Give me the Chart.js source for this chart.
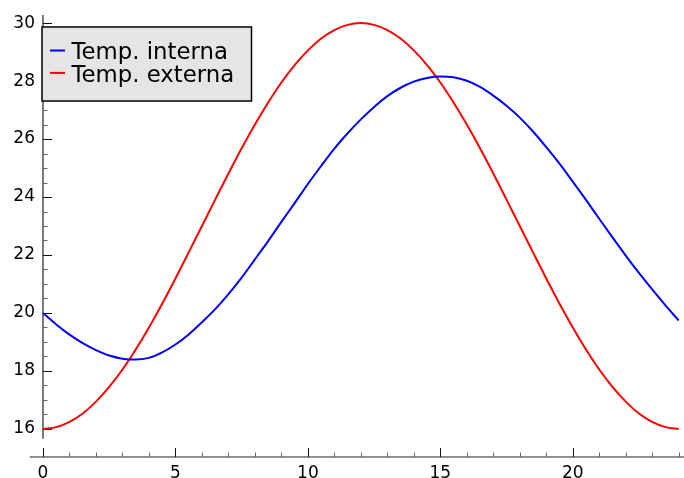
<!DOCTYPE html>
<html><head><meta charset="utf-8">
<script src="https://cdn.jsdelivr.net/npm/chart.js@4.4.0/dist/chart.umd.min.js"></script>
<style>html,body{margin:0;padding:0;background:#fff}#wrap{width:684px;height:478px;position:relative}</style>
</head><body><div id="wrap"><canvas id="c" width="684" height="478"></canvas></div>
<script>
const hours = [0,0.5,1,1.5,2,2.5,3,3.5,4,4.5,5,5.5,6,6.5,7,7.5,8,8.5,9,9.5,10,10.5,11,11.5,12,12.5,13,13.5,14,14.5,15,15.5,16,16.5,17,17.5,18,18.5,19,19.5,20,20.5,21,21.5,22,22.5,23,23.5,24];
const tempInterna = [20.00,19.60,19.25,18.96,18.72,18.53,18.42,18.39,18.45,18.64,18.91,19.26,19.68,20.13,20.65,21.22,21.85,22.48,23.14,23.79,24.45,25.07,25.67,26.20,26.68,27.11,27.48,27.77,27.98,28.11,28.16,28.13,28.01,27.80,27.50,27.15,26.74,26.26,25.72,25.15,24.53,23.90,23.25,22.61,21.98,21.38,20.81,20.26,19.74];
const tempExterna = [16.00,16.06,16.24,16.53,16.94,17.45,18.05,18.74,19.50,20.32,21.19,22.09,23.00,23.91,24.81,25.68,26.50,27.26,27.95,28.55,29.06,29.47,29.76,29.94,30.00,29.94,29.76,29.47,29.06,28.55,27.95,27.26,26.50,25.68,24.81,23.91,23.00,22.09,21.19,20.32,19.50,18.74,18.05,17.45,16.94,16.53,16.24,16.06,16.00];
const seriesLabels = ['Temp. interna', 'Temp. externa'];
const seriesColors = ['#0000ff', '#ff0000'];
const xTickValues = [0,5,10,15,20];
const yTickValues = [16,18,20,22,24,26,28,30];

const FONT = '"DejaVu Sans", sans-serif';

const axesPlugin = {
  id: 'sageAxes',
  beforeDatasetsDraw(chart) {
    const {ctx} = chart;
    const xs = chart.scales.x, ys = chart.scales.y;
    const y0 = ys.getPixelForValue(ys.min);
    const x0 = xs.getPixelForValue(0);
    ctx.save();
    ctx.strokeStyle = '#222';
    ctx.lineWidth = 1.2;
    ctx.beginPath();
    ctx.moveTo(xs.getPixelForValue(-0.5), y0);
    ctx.lineTo(chart.width, y0);
    ctx.stroke();
    ctx.beginPath();
    ctx.moveTo(x0, ys.getPixelForValue(15.66));
    ctx.lineTo(x0, ys.getPixelForValue(ys.max));
    ctx.stroke();
    for (let v = 0; v <= 24; v += 1) {
      const px = Math.round(xs.getPixelForValue(v)) + 0.5;
      const major = v % 5 === 0;
      ctx.strokeStyle = major ? '#111' : '#666';
      ctx.lineWidth = 1;
      ctx.beginPath();
      ctx.moveTo(px, y0);
      ctx.lineTo(px, y0 - (major ? 9 : 4.5));
      ctx.stroke();
    }
    for (let v = 16; v <= 30.001; v += 0.5) {
      const py = Math.round(ys.getPixelForValue(v)) + 0.5;
      const major = Math.abs(v % 2) < 1e-6;
      ctx.strokeStyle = major ? '#111' : '#666';
      ctx.lineWidth = 1;
      ctx.beginPath();
      ctx.moveTo(x0, py);
      ctx.lineTo(x0 + (major ? 9 : 4.5), py);
      ctx.stroke();
    }
    ctx.restore();
  },
  afterDraw(chart) {
    const {ctx} = chart;
    ctx.save();
    ctx.fillStyle = '#e5e5e5';
    ctx.fillRect(42, 27, 209.5, 74);
    ctx.strokeStyle = '#000';
    ctx.lineWidth = 1.5;
    ctx.strokeRect(42, 27, 209.5, 74);
    ctx.font = '22.8px ' + FONT;
    ctx.textBaseline = 'alphabetic';
    ctx.textAlign = 'left';
    chart.data.datasets.forEach((ds, i) => {
      const base = 59.3 + i * 22.4;
      ctx.strokeStyle = ds.borderColor;
      ctx.lineWidth = 2;
      ctx.beginPath();
      ctx.moveTo(50, base - 8.8);
      ctx.lineTo(65, base - 8.8);
      ctx.stroke();
      ctx.fillStyle = '#000';
      ctx.fillText(ds.label, 71.5, base);
    });
    ctx.restore();
  }
};

const zeroPad = s => { s.paddingTop = 0; s.paddingBottom = 0; s.paddingLeft = 0; s.paddingRight = 0; };

new Chart(document.getElementById('c'), {
  type: 'line',
  data: {
    datasets: [
      {label: seriesLabels[0], data: hours.map((h, i) => ({x: h, y: tempInterna[i]})), borderColor: seriesColors[0]},
      {label: seriesLabels[1], data: hours.map((h, i) => ({x: h, y: tempExterna[i]})), borderColor: seriesColors[1]}
    ].map(d => Object.assign(d, {borderWidth: 2, pointRadius: 0, cubicInterpolationMode: 'monotone', fill: false, clip: false}))
  },
  options: {
    responsive: false,
    animation: false,
    devicePixelRatio: 1,
    layout: {padding: {top: 15, left: 0, right: 0, bottom: 0}},
    plugins: {legend: {display: false}, tooltip: {enabled: false}},
    scales: {
      x: {
        type: 'linear', position: 'bottom', min: 0, max: 24.2,
        grid: {display: false, drawTicks: false}, border: {display: false},
        ticks: {font: {family: FONT, size: 17}, color: '#000', padding: 6, maxRotation: 0, autoSkip: false},
        afterBuildTicks: s => { s.ticks = xTickValues.map(v => ({value: v})); },
        afterFit: s => { s.height = 21; zeroPad(s); }
      },
      y: {
        type: 'linear', position: 'left', min: 15.03, max: 30.28,
        grid: {display: false, drawTicks: false}, border: {display: false},
        ticks: {font: {family: FONT, size: 17}, color: '#000', padding: 8, autoSkip: false},
        afterBuildTicks: s => { s.ticks = yTickValues.map(v => ({value: v})); },
        afterFit: s => { s.width = 43; zeroPad(s); }
      }
    }
  },
  plugins: [axesPlugin]
});
</script>
</body></html>
